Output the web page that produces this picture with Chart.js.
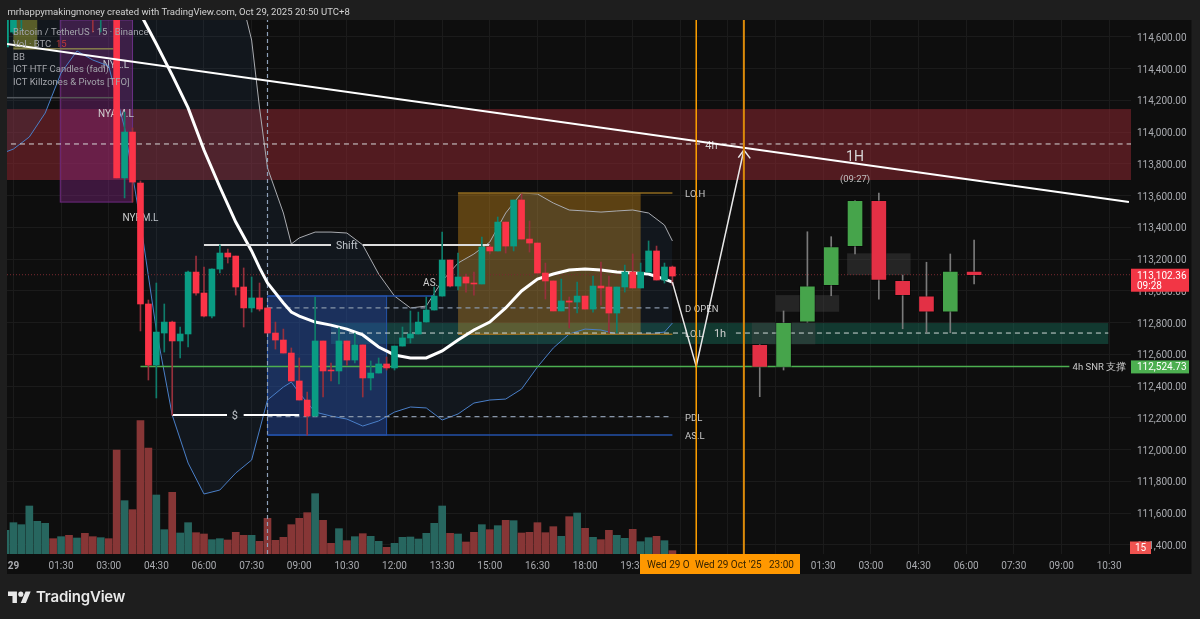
<!DOCTYPE html>
<html>
<head>
<meta charset="utf-8">
<title>BTCUSDT 15m</title>
<script src="https://cdn.jsdelivr.net/npm/chart.js@4"></script>
<style>
  html, body { margin: 0; padding: 0; background: #1e1e1e; width: 1200px; height: 619px; overflow: hidden; }
  canvas { position: absolute; left: 0; top: 0; }
  #byline { position: absolute; left: 7.5px; top: 5px; font: 9.55px/14px Roboto, sans-serif; color: #d2d2d2; white-space: nowrap; }
  #logo { position: absolute; left: 8px; top: 588.5px; }
  #brand { position: absolute; left: 36px; top: 586px; font: 600 15px/22px Inter, sans-serif; color: #e8e8e8; letter-spacing: -.2px; }
</style>
</head>
<body>
<canvas id="chart" width="1200" height="619"></canvas>
<div id="byline">mrhappymakingmoney created with TradingView.com, Oct 29, 2025 20:50 UTC+8</div>
<svg id="logo" width="23" height="18" viewBox="0 0 36 28"><path fill="#e8e8e8" d="M14 22H7V11H0V4h14v18zM28 22h-8l7.5-18h8L28 22z"/><circle fill="#e8e8e8" cx="20" cy="8" r="4"/></svg>
<div id="brand">TradingView</div>

<script>
// BTCUSDT 15m. Bars are numbered from midnight (00:00 = 0).
const FIRST_BAR = -1;

const opens = [114537,114631,114900,114950,115100,115140,115190,115120,115170,115110,115150,115080,115020,115070,
  115000,113712,114001,113680,112918,112533,112735,112804,112685,112729,113119,112987,112842,113138,113239,113220,113025,112893,112956,112893,
  112735,112691,112609,112433,112313,112212,112685,112502,112496,112685,112565,112660,112452,112483,112540,112515,112653,112704,112729,112804,
  112880,112968,113195,113031,113088,113050,113044,113277,113252,113434,113283,113573,113327,113302,113113,113063,112874,112937,112930,112968,
  112886,113031,113025,112861,113025,113119,113019,113119,113252,113069,113151];
const highs = [115000,114900,115000,115150,115180,115220,115200,115200,115190,115180,115170,115100,115100,115090,
  115020,114127,114027,113693,112943,113050,112918,112810,112773,113125,113220,113151,113140,113290,113264,113220,113145,113088,113050,112893,
  112804,112760,112641,112578,112363,112962,112685,112546,112767,112685,112735,112660,112559,112578,112584,112653,112773,112874,112867,112962,
  113025,113371,113195,113239,113107,113119,113340,113290,113466,113434,113573,113611,113441,113302,113176,113063,113075,112962,113056,112968,
  113094,113182,113094,113025,113163,113233,113176,113315,113283,113176,113157];
const lows = [114537,114620,114640,114900,115040,115100,115100,115090,115080,115090,115050,114631,114631,114980,
  113712,113586,113560,112748,112439,112326,112615,112218,112578,112647,112974,112836,112830,113113,113176,112974,112773,112867,112874,112735,
  112634,112609,112433,112313,112092,112212,112332,112433,112414,112533,112546,112332,112376,112483,112502,112502,112653,112672,112729,112804,
  112880,112968,113025,113006,112993,112974,113044,113233,113252,113239,113252,113327,113245,113113,112949,112874,112874,112767,112861,112886,
  112867,112911,112735,112735,112993,113019,113019,113119,113069,113050,113037];
const closes = [114950,114900,114950,115100,115140,115190,115120,115170,115110,115150,115080,115020,115070,115000,
  113712,114001,113686,112918,112533,112741,112804,112685,112729,113119,112987,112842,113138,113239,113214,113025,112893,112956,112886,112735,
  112691,112609,112433,112313,112212,112685,112496,112496,112685,112565,112660,112452,112483,112540,112515,112653,112704,112729,112804,112880,
  112968,113195,113031,113088,113050,113044,113277,113252,113434,113283,113573,113327,113302,113113,113063,112874,112937,112930,112968,112886,
  113031,113019,112861,113025,113119,113019,113119,113252,113069,113151,113094];
const volumes = [71,94,88,144,98,92,46,52,56,48,62,52,49,46,312,160,133,400,318,177,73,185,63,94,64,60,43,46,42,65,56,56,38,107,41,50,88,107,124,181,101,32,76,40,
  52,61,53,38,20,32,50,51,45,62,92,144,62,60,36,65,88,73,85,101,100,63,65,94,64,82,53,112,123,77,50,43,71,56,47,74,37,49,53,40,10];

// Bollinger bands, sampled about every second bar
const bandBars = [-1,0,2,4,6,8,10,12,14,16,18,20,22,24,26,28,30,31,32,34,35,36,38,40,42,44,46,48,50,52,54,56,58,60,62,64,66,68,70,72,74,76,78,80,82,83];
const bbUpper = [115600,115600,115600,115600,115600,115600,115600,115600,115600,115600,115600,115600,115600,115500,115400,114990,114581,114153,113775,113491,113296,113334,113371,113371,113365,113290,113107,112968,112893,112905,113063,113176,113233,113308,113491,113617,113611,113554,113510,113504,113497,113504,113510,113491,113415,113315];
const bbBasis = [115500,115500,115480,115450,115400,115350,115280,115100,114928,114745,114556,114360,114153,113888,113655,113434,113252,113145,113050,112924,112867,112842,112804,112785,112760,112723,112647,112597,112578,112578,112622,112691,112754,112804,112893,113000,113075,113107,113132,113138,113132,113119,113113,113107,113075,113056];
const bbLower = [113875,113894,113970,114121,114373,114512,114455,114417,114027,113434,112754,112218,111916,111721,111746,111853,111935,112124,112313,112395,112426,112357,112237,112212,112193,112149,112181,112237,112269,112263,112187,112225,112294,112313,112319,112382,112521,112641,112729,112760,112754,112729,112729,112729,112741,112798];

// 1h candles from the HTF indicator, drawn in the empty space to the right
const htfBars = [94,97,100,103,106,109,112,115,118,121];
const htfOpens = [112664,112519,112803,113033,113279,113571,113067,112970,112866,113126];
const htfHighs = [112664,112874,113373,113342,113571,113617,113100,113181,113233,113321];
const htfLows = [112334,112502,112803,112970,113233,112949,112762,112737,112737,113044];
const htfCloses = [112519,112803,113033,113279,113571,113067,112970,112866,113126,113096];

// Axes
const Y_MIN = 111343, Y_MAX = 114707;
const X_MIN = -0.81, X_MAX = 140.76;
const priceTicks = [114600,114400,114200,114000,113800,113600,113400,113200,113000,112800,112600,112400,112200,112000,111800,111600,111400];
const timeTicks = [0,6,12,18,24,30,36,42,48,54,60,66,72,78,84,90,96,102,108,114,120,126,132,138];
const timeLabels = ['29','01:30','03:00','04:30','06:00','07:30','09:00','10:30','12:00','13:30','15:00','16:30','18:00','19:30','21:00','22:30','00:00','01:30','03:00','04:30','06:00','07:30','09:00','10:30'];

// Price levels
const lastPrice = 113102.36, snrPrice = 112524.73;
const shiftPrice = 113290, sweepPrice = 112218, midZonePrice = 113926;
const dOpenPrice = 112893, pdlPrice = 112208, asHigh = 112968, asLow = 112092, loHigh = 113617, loLow = 112727, band1hMid = 112735;
const gridBarA = 86, gridBarB = 92, sessionBar = 32;

// Drawn lines
const trendBars = [-0.81, 140.5], trendPrices = [114556, 113560];
const pathBars = [83, 86, 92], pathPrices = [113056, 112524.73, 113888];
const arrowBars = [91.3, 92, 92.8], arrowPrices = [113840, 113888, 113835];

// Shaded zones: [fromBar, toBar, lowPrice, highPrice]
const supplyZone = [X_MIN, X_MAX, 113699, 114146];
const demandZone = [40, 137.9, 112666, 112798];
const nyBox = [5.9, 15, 113560, 114707];
const londonBox = [0, 3, 114524, 114707];
const asiaBox = [32, 47, 112092, 112968];
const orangeBox = [56, 79, 112727, 113617];
const fvgBoxes = [[96, 104, 112869, 112974], [105, 113, 113100, 113237], [93, 101, 112664, 112800]];

// Text pinned to the chart: [bar, price, text, font size]
const chartLabels = [
  [12.9, 114430, 'NYL.L', 10], [12.9, 114121, 'NYAM.L', 10], [16, 113466, 'NYPM.L', 10], [53, 113056, 'AS.H', 10],
  [42, 113290, 'Shift', 10.5], [27.9, 112218, '$', 11], [89, 112735, '1h', 11], [87.9, 113923, '4h', 11]
];
const edgeLabels = [
  [84.6, 113617, 'LO.H'], [84.6, 112893, 'D OPEN'], [84.6, 112735, 'LO.L'], [84.6, 112208, 'PDL'], [84.6, 112092, 'AS.L'], [133.4, 112524.73, '4h SNR 支撑']
];
const legendLines = ['Bitcoin / TetherUS · 15 · Binance', 'Vol · BTC', 'BB', 'ICT HTF Candles (fadi)', 'ICT Killzones & Pivots [TFO]'];

const FONT = 'Roboto, sans-serif';
const GREEN = '#0a9c83', RED = '#fb3448';

const barX = i => FIRST_BAR + i;
const isUp = i => closes[i] >= opens[i];

function pts(xs, ys) {
  return xs.map((x, i) => ({ x, y: ys[i] }));
}

function lineSet(xs, ys, color, width, dash, order) {
  return {
    type: 'line', data: pts(xs, ys), borderColor: color, borderWidth: width, borderDash: dash || [],
    pointRadius: 0, tension: 0, fill: false, order: order, yAxisID: 'y', xAxisID: 'x'
  };
}

function barSet(data, colors, thickness, yAxisID, order, extra) {
  return Object.assign({
    type: 'bar', data, backgroundColor: colors, barThickness: thickness, grouped: false,
    yAxisID, xAxisID: 'x', order, borderWidth: 0
  }, extra || {});
}

const datasets = [
  // volume pane
  barSet(volumes.map((v, i) => ({ x: barX(i), y: v })), volumes.map((v, i) => isUp(i) ? '#27665f' : '#873636'), 7, 'yVol', 20),

  // bollinger bands
  Object.assign(lineSet(bandBars, bbUpper, '#a9abb0', 1, [], 18), { fill: { target: '+1' }, backgroundColor: 'rgba(60,110,170,0.10)' }),
  lineSet(bandBars, bbLower, '#4a7fc8', 1, [], 17),
  lineSet(bandBars, bbBasis, '#ffffff', 3, [], 10),

  // levels
  lineSet([X_MIN, 140.76], [lastPrice, lastPrice], '#7a2a30', 1, [1, 2], 16),
  lineSet([24, 40], [shiftPrice, shiftPrice], '#dddddd', 2, [], 9),
  lineSet([44, 60], [shiftPrice, shiftPrice], '#dddddd', 2, [], 9),
  lineSet([20, 26.9], [sweepPrice, sweepPrice], '#ffffff', 2, [], 9),
  lineSet([29, 36], [sweepPrice, sweepPrice], '#ffffff', 2, [], 9),
  lineSet([32, 83], [dOpenPrice, dOpenPrice], '#8795a8', 1.2, [5, 4], 12),
  lineSet([32, 83], [pdlPrice, pdlPrice], '#8795a8', 1.2, [5, 4], 12),
  lineSet([32, 53], [asHigh, asHigh], '#2350a8', 1.5, [], 13),
  lineSet([32, 83], [asLow, asLow], '#2350a8', 1.5, [], 13),
  lineSet([56, 83], [loHigh, loHigh], '#8f6a1f', 1.5, [], 13),
  lineSet([56, 83], [loLow, loLow], '#8f6a1f', 1.5, [], 13),
  lineSet([X_MIN + 0.5, 86.5], [midZonePrice, midZonePrice], '#d8d8d8', 1, [5, 4], 12),
  lineSet([89.2, 140.76], [midZonePrice, midZonePrice], '#d8d8d8', 1, [5, 4], 12),
  lineSet([40, 85], [band1hMid, band1hMid], '#cfd8d6', 1, [5, 4], 12),
  lineSet([91, 137.9], [band1hMid, band1hMid], '#cfd8d6', 1, [5, 4], 12),
  lineSet([16, 133], [snrPrice, snrPrice], '#4caf50', 1.5, [], 11),
  lineSet([sessionBar, sessionBar], [Y_MIN, Y_MAX], '#8ea0b8', 1.2, [4, 3], 14),

  // candles: wick first, body on top
  barSet(highs.map((h, i) => ({ x: barX(i), y: [lows[i], h] })), opens.map((o, i) => isUp(i) ? '#0f7d6b' : '#96303c'), 1, 'y', 5),
  barSet(opens.map((o, i) => ({ x: barX(i), y: [o, closes[i]] })), opens.map((o, i) => isUp(i) ? GREEN : RED), 6, 'y', 4),

  // 1h candles
  barSet(htfBars.map((x, i) => ({ x, y: [htfLows[i], htfHighs[i]] })), '#7a7a7a', 1, 'y', 5),
  barSet(htfBars.map((x, i) => ({ x, y: [htfOpens[i], htfCloses[i]] })),
    htfBars.map((x, i) => htfCloses[i] >= htfOpens[i] ? '#46a44b' : '#e33045'), 16, 'y', 4,
    { borderWidth: 1, borderColor: 'rgba(0,0,0,0.35)', borderSkipped: false }),

  // hand-drawn path, trend line and session markers sit on top
  lineSet(trendBars, trendPrices, '#ffffff', 2, [], 1),
  lineSet(pathBars, pathPrices, '#e8e8e8', 1.5, [], 1),
  lineSet(arrowBars, arrowPrices, '#e8e8e8', 1.5, [], 1),
  lineSet([gridBarA, gridBarA], [Y_MIN, Y_MAX], '#ffa000', 1.5, [], 0),
  lineSet([gridBarB, gridBarB], [Y_MIN, Y_MAX], '#db8a0a', 2, [], 0)
];

function fillZone(chart, zone, color, stroke) {
  const { x, y } = chart.scales;
  const left = x.getPixelForValue(zone[0]), right = x.getPixelForValue(zone[1]);
  const top = y.getPixelForValue(zone[3]), bottom = y.getPixelForValue(zone[2]);
  const ctx = chart.ctx;
  ctx.fillStyle = color;
  ctx.fillRect(left, top, right - left, bottom - top);
  if (stroke) {
    ctx.strokeStyle = stroke;
    ctx.lineWidth = 1;
    ctx.strokeRect(left, top, right - left, bottom - top);
  }
}

// Roboto sits a little high with a middle baseline, so nudge everything down
function text(ctx, str, px, py, font, color, align) {
  ctx.font = font;
  ctx.fillStyle = color;
  ctx.textAlign = align || 'left';
  ctx.textBaseline = 'middle';
  ctx.fillText(str, px, py + 1.5);
}

// Zones and pinned text go under the candles; price tags and the legend go over everything.
const tradingViewDecor = {
  id: 'tradingViewDecor',
  beforeDraw(chart) {
    const ctx = chart.ctx;
    ctx.fillStyle = '#0e0e0e';
    ctx.fillRect(7, 20, 1184.5, 554);
  },
  beforeDatasetsDraw(chart) {
    const ctx = chart.ctx, area = chart.chartArea, { x, y } = chart.scales;
    ctx.save();
    ctx.beginPath();
    ctx.rect(area.left, area.top, area.right - area.left, area.bottom - area.top);
    ctx.clip();
    fillZone(chart, supplyZone, 'rgba(150,40,50,0.50)');
    fillZone(chart, demandZone, 'rgba(25,110,90,0.45)');
    fillZone(chart, nyBox, 'rgba(150,40,150,0.35)', '#6e2a80');
    fillZone(chart, londonBox, 'rgba(170,170,40,0.50)');
    fillZone(chart, asiaBox, 'rgba(38,80,180,0.42)', '#2350a8');
    fillZone(chart, orangeBox, 'rgba(220,150,30,0.38)');
    fvgBoxes.forEach(b => fillZone(chart, b, 'rgba(70,70,70,0.42)'));
    // tan and grey session caps along the legend
    ctx.fillStyle = '#8d8140';
    ctx.fillRect(x.getPixelForValue(0), y.getPixelForValue(114524) - 1, x.getPixelForValue(12.6) - x.getPixelForValue(0), 1.5);
    ctx.fillStyle = '#555555';
    ctx.fillRect(7, y.getPixelForValue(114216) - 1, x.getPixelForValue(12.6) - 7, 1.5);
    chartLabels.forEach(l => text(ctx, l[2], x.getPixelForValue(l[0]), y.getPixelForValue(l[1]), l[3] + 'px ' + FONT, '#d0d0d0', 'center'));
    edgeLabels.forEach(l => text(ctx, l[2], x.getPixelForValue(l[0]), y.getPixelForValue(l[1]), '9.5px ' + FONT, '#c8c8c8'));
    text(ctx, '1H', x.getPixelForValue(106), y.getPixelForValue(113850), '14px ' + FONT, '#d8d8d8', 'center');
    text(ctx, '(09:27)', x.getPixelForValue(106), y.getPixelForValue(113712), '9.5px ' + FONT, '#c0c0c0', 'center');
    ctx.restore();
  },
  afterDraw(chart) {
    const ctx = chart.ctx, area = chart.chartArea, y = chart.scales.y;
    const tagLeft = area.right, tagWidth = 58;

    // last price tag
    const lastY = y.getPixelForValue(lastPrice);
    ctx.fillStyle = '#f23645';
    ctx.fillRect(tagLeft, lastY - 6, tagWidth, 23);
    text(ctx, '113,102.36', tagLeft + 6, lastY, '10px ' + FONT, '#ffffff');
    text(ctx, '09:28', tagLeft + 6, lastY + 10.5, '10px ' + FONT, '#ffffff');

    // support level tag
    const snrY = y.getPixelForValue(snrPrice);
    ctx.fillStyle = '#4caf50';
    ctx.fillRect(tagLeft, snrY - 6, tagWidth, 13);
    text(ctx, '112,524.73', tagLeft + 6, snrY, '10px ' + FONT, '#ffffff');

    // volume interval tag
    ctx.fillStyle = '#ef5350';
    ctx.fillRect(1130, 541.5, 21, 12.5);
    text(ctx, '15', 1140.5, 546.5, '10px ' + FONT, '#ffffff', 'center');

    // crosshair date tags
    ctx.fillStyle = '#ff9800';
    ctx.fillRect(640, 554, 160, 20);
    text(ctx, 'Wed 29 O', 647, 563.5, '10px ' + FONT, '#3a2500');
    text(ctx, "Wed 29 Oct '25", 695, 563.5, '10px ' + FONT, '#3a2500');
    text(ctx, '23:00', 769, 563.5, '10px ' + FONT, '#3a2500');

    // legend
    const legendY = [32, 44, 57, 69, 82];
    legendLines.forEach((l, i) => text(ctx, l, 13, legendY[i] - 1, '9.5px ' + FONT, '#a3a5ab'));
    text(ctx, '15', 56, 43, '9.5px ' + FONT, '#c23a3a');
  }
};

new Chart(document.getElementById('chart'), {
  type: 'bar',
  data: { datasets },
  plugins: [tradingViewDecor],
  options: {
    responsive: false,
    animation: false,
    events: [],
    layout: { autoPadding: false, padding: { left: 7, top: 20, right: 10, bottom: 45 } },
    plugins: { legend: { display: false }, tooltip: { enabled: false } },
    scales: {
      x: {
        type: 'linear', position: 'bottom', min: X_MIN, max: X_MAX, offset: false,
        afterBuildTicks(axis) { axis.ticks = timeTicks.map(value => ({ value })); },
        afterFit(axis) { axis.height = 20; },
        grid: { color: '#1b1b1b', lineWidth: 1, offset: false, drawTicks: false },
        border: { display: false },
        ticks: {
          autoSkip: false, maxRotation: 0, padding: 6,
          color: '#a9abb0',
          font: ctx => ({ family: FONT, size: 10, weight: ctx.index === 0 ? 'bold' : 'normal' }),
          callback(value) { return timeLabels[timeTicks.indexOf(value)]; }
        }
      },
      y: {
        type: 'linear', position: 'right', min: Y_MIN, max: Y_MAX,
        afterBuildTicks(axis) { axis.ticks = priceTicks.map(value => ({ value })); },
        afterFit(axis) { axis.width = 59; },
        grid: { color: '#1b1b1b', lineWidth: 1, drawTicks: false },
        border: { display: false },
        ticks: {
          padding: 6, labelOffset: 1.5, color: '#a9abb0', font: { family: FONT, size: 10 },
          callback(value) { return value.toLocaleString('en-US', { minimumFractionDigits: 2 }); }
        }
      },
      yVol: { type: 'linear', display: false, min: 0, max: 1602, grid: { display: false } }
    }
  }
});
</script>
</body>
</html>
